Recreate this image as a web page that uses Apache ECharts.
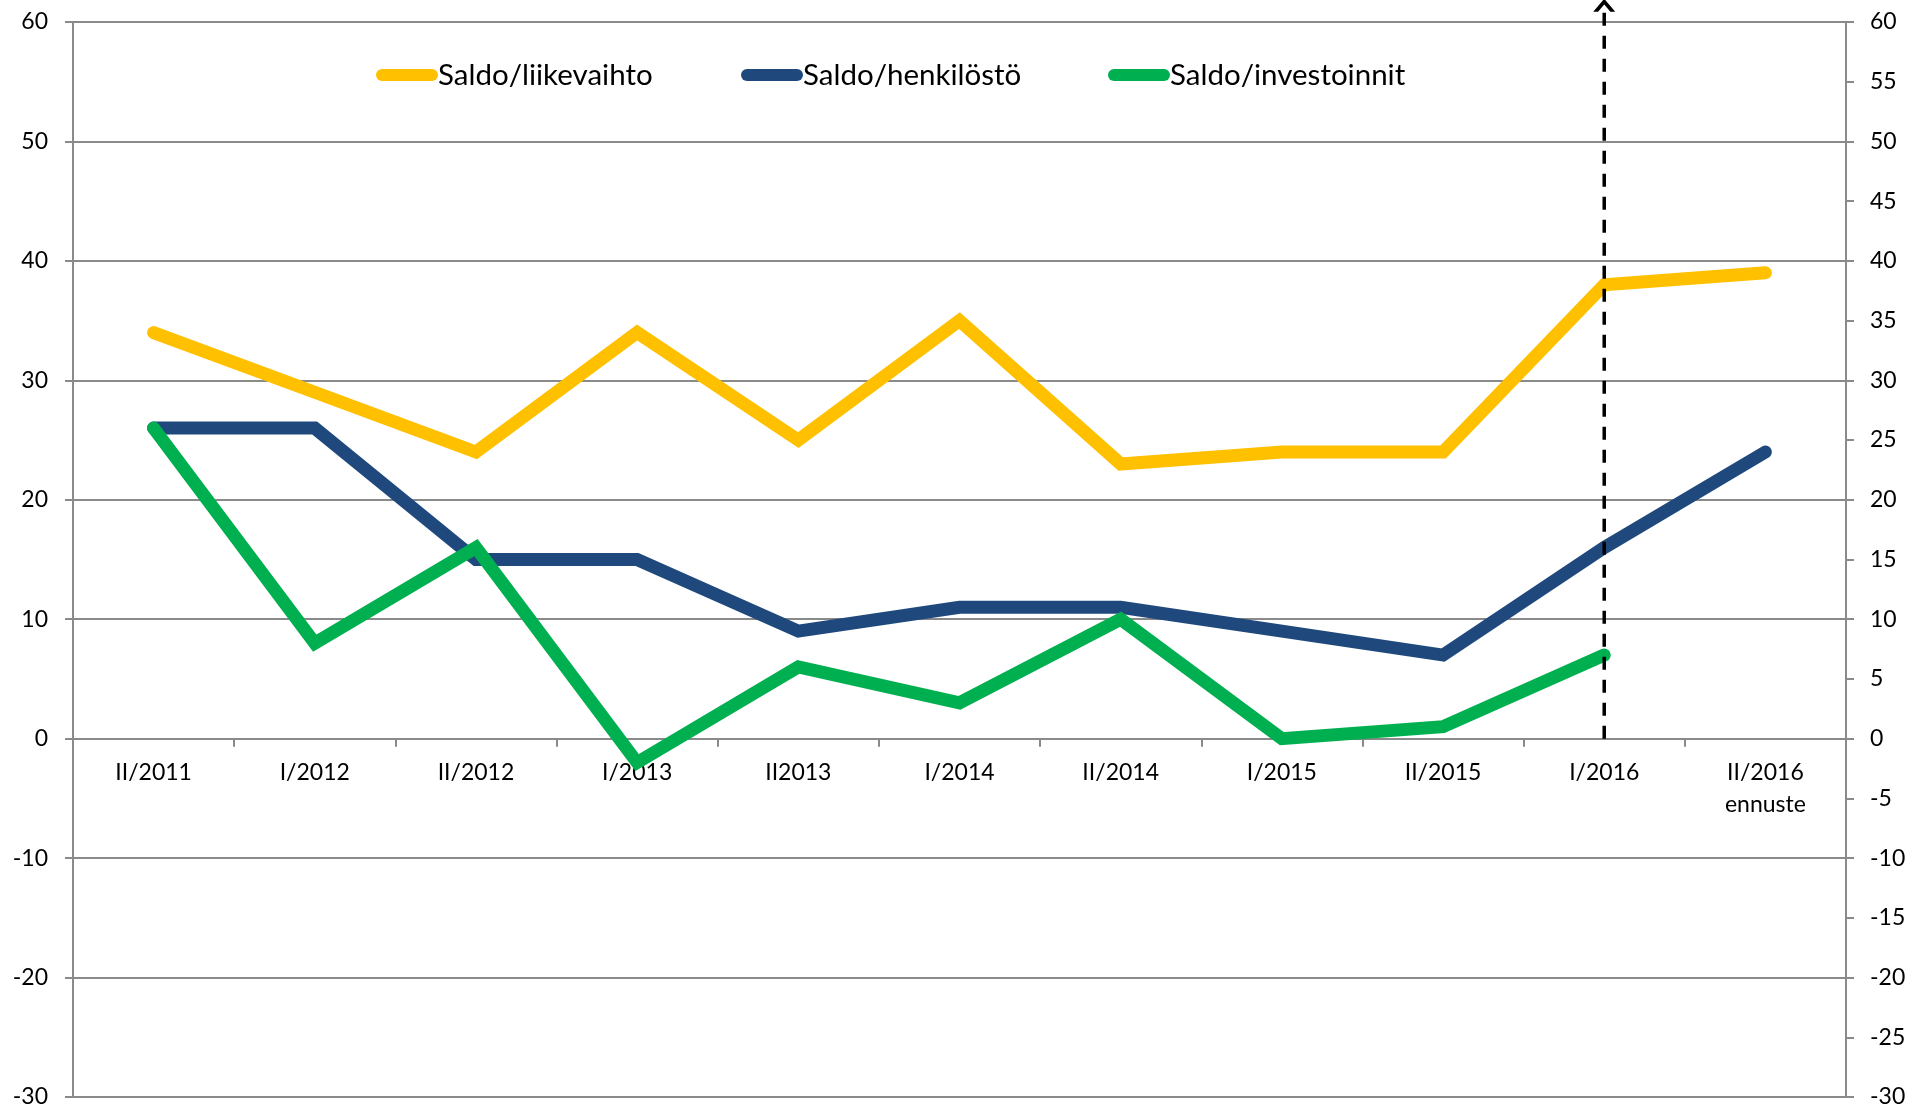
<!DOCTYPE html>
<html>
<head>
<meta charset="utf-8">
<script src="https://cdn.jsdelivr.net/npm/echarts@6/dist/echarts.min.js"></script>
<style>
  html, body { margin: 0; padding: 0; background: #fff; }
  #main { width: 1926px; height: 1109px; }
</style>
</head>
<body>
<div id="main"></div>
<script>
// data
var periods = ['II/2011', 'I/2012', 'II/2012', 'I/2013', 'II2013', 'I/2014', 'II/2014', 'I/2015', 'II/2015', 'I/2016', 'II/2016\nennuste'];
var liikevaihto = [34, 29, 24, 34, 25, 35, 23, 24, 24, 38, 39];
var henkilosto = [26, 26, 15, 15, 9, 11, 11, 9, 7, 16, 24];
var investoinnit = [26, 8, 16, -2, 6, 3, 10, 0, 1, 7, null];
var seriesNames = ['Saldo/liikevaihto', 'Saldo/henkilöstö', 'Saldo/investoinnit'];
var seriesColors = ['#FFC000', '#1F497D', '#00B050'];
var forecastAt = 'I/2016';
var forecastRange = [0, 61.4];

var font = 'Lato, "Open Sans", sans-serif';
var grey = '#8a8a8a';
var chevron = 'path://M0,12 L10,0 L20,12 L15.6,12 L10,5.3 L4.4,12 Z';
var pill = 'path://M6,0 L56,0 A6,6 0 0 1 56,12 L6,12 A6,6 0 0 1 6,0 Z';

var myChart = echarts.init(document.getElementById('main'));

function lineSeries(name, data, color) {
  return {
    name: name,
    type: 'line',
    data: data,
    showSymbol: false,
    symbol: 'none',
    clip: false,
    lineStyle: { color: color, width: 13, cap: 'round', join: 'miter' },
    itemStyle: { color: color }
  };
}

// forecast marker: dashed vertical line with an open arrow on top
var marker = {
  name: 'ennuste',
  type: 'line',
  clip: false,
  silent: true,
  z: 5,
  showSymbol: true,
  data: [
    { value: [forecastAt, forecastRange[0]], symbol: 'none' },
    { value: [forecastAt, forecastRange[1]], symbol: chevron, symbolSize: [22, 13] }
  ],
  lineStyle: { color: '#000', width: 3.5, type: [13, 10] },
  itemStyle: { color: '#000' }
};

var legendLefts = [376, 741, 1108];
var legends = seriesNames.map(function (n, i) {
  return {
    left: legendLefts[i],
    top: 60,
    padding: 0,
    itemWidth: 62,
    itemHeight: 12,
    icon: pill,
    selectedMode: false,
    data: [n],
    textStyle: { fontFamily: font, fontSize: 29.5, color: '#000', padding: [0, 0, 0, -5] }
  };
});

myChart.setOption({
  animation: false,
  textStyle: { fontFamily: font },
  grid: { left: 73, right: 80, top: 22, bottom: 12, containLabel: false, outerBoundsMode: 'none' },
  legend: legends,
  xAxis: [
    {
      type: 'category',
      data: periods,
      boundaryGap: true,
      axisLine: { onZero: true, lineStyle: { color: grey, width: 2 } },
      axisTick: { show: true, length: 8, lineStyle: { color: grey, width: 2 } },
      axisLabel: { show: false },
      splitLine: { show: false }
    },
    {
      // labels only, shifted up to sit under the zero line
      type: 'category',
      data: periods,
      position: 'bottom',
      offset: -358,
      boundaryGap: true,
      axisLine: { show: false, onZero: false },
      axisTick: { show: false },
      axisLabel: { interval: 0, margin: 18, fontSize: 23, lineHeight: 32, color: '#000', fontFamily: font },
      splitLine: { show: false }
    }
  ],
  yAxis: [
    {
      type: 'value',
      min: -30, max: 60, interval: 10,
      position: 'left',
      axisLine: { show: true, onZero: false, lineStyle: { color: grey, width: 2 } },
      axisTick: { show: true, length: 8, lineStyle: { color: grey, width: 2 } },
      axisLabel: { margin: 25, fontSize: 23, color: '#000', fontFamily: font },
      splitLine: { show: true, lineStyle: { color: grey, width: 2 } }
    },
    {
      type: 'value',
      min: -30, max: 60, interval: 5,
      position: 'right',
      axisLine: { show: true, onZero: false, lineStyle: { color: grey, width: 2 } },
      axisTick: { show: true, length: 8, lineStyle: { color: grey, width: 2 } },
      axisLabel: { margin: 24, fontSize: 23, color: '#000', fontFamily: font },
      splitLine: { show: false }
    }
  ],
  series: [
    lineSeries(seriesNames[0], liikevaihto, seriesColors[0]),
    lineSeries(seriesNames[1], henkilosto, seriesColors[1]),
    lineSeries(seriesNames[2], investoinnit, seriesColors[2]),
    marker
  ]
});

window.onresize = function () {
  myChart.resize();
};
</script>
</body>
</html>
